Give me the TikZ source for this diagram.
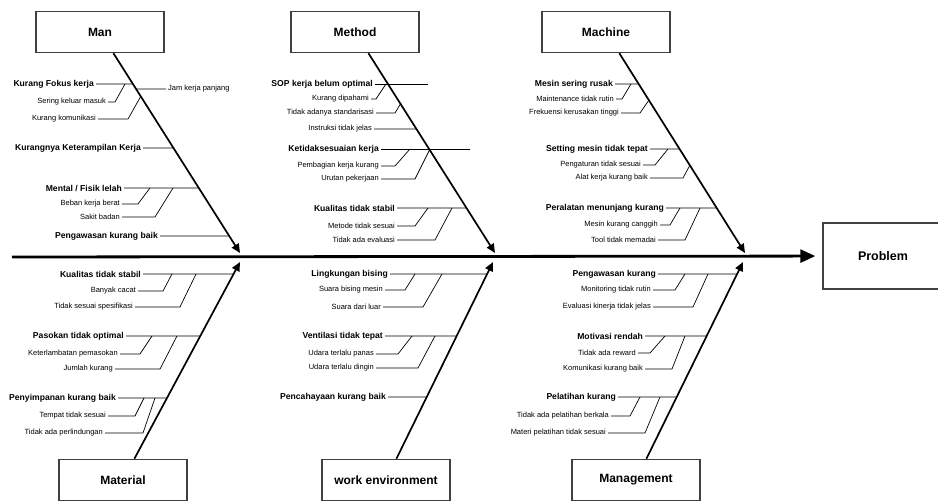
\documentclass[tikz,border=0pt]{standalone}
\usepackage{fontspec}
\setmainfont{Liberation Sans}
\usetikzlibrary{arrows.meta,positioning,calc}

\begin{document}
\begin{tikzpicture}[x=1pt,y=-1pt]
  \tikzstyle{cat}=[draw=black!75,line width=1.4pt,fill=white,minimum width=128pt,minimum height=41pt,font=\bfseries\fontsize{12}{14}\selectfont]
  \tikzstyle{cause}=[anchor=east,inner sep=2pt,font=\bfseries\fontsize{8.6}{9}\selectfont]
  \tikzstyle{subc}=[anchor=east,inner sep=2pt,font=\fontsize{7.5}{8}\selectfont]
  \tikzstyle{bone}=[line width=1.7pt,-{Triangle[length=9pt,width=8pt]}]
  \tikzstyle{twig}=[line width=0.7pt]
  \useasboundingbox (0,0) rectangle (938,502);

  % categories
  \node[cat] (man) at (100,32) {Man};
  \node[cat] (met) at (355,32) {Method};
  \node[cat] (mac) at (606,32) {Machine};
  \node[cat] (mat) at (123,480) {Material};
  \node[cat] (env) at (386,480) {work environment};
  \node[cat] (mgt) at (636,480) {Management};
  \node[cat,minimum width=120pt,minimum height=66pt,font=\bfseries\fontsize{12.5}{14}\selectfont] (prob) at (883,256) {Problem};

  % spine and bones
  \coordinate (tail) at (12,257);
  \coordinate (manT) at (240,253);
  \coordinate (metT) at (495,253);
  \coordinate (macT) at (745,253);
  \coordinate (matT) at (240,262);
  \coordinate (envT) at (493,262);
  \coordinate (mgtT) at (743,262);
  \draw[line width=2.8pt,-{Triangle[length=15pt,width=13pt]},shorten >=7pt] (tail) -- (prob);
  \draw[bone] (man) -- (manT);
  \draw[bone] (met) -- (metT);
  \draw[bone] (mac) -- (macT);
  \draw[bone] (mat) -- (matT);
  \draw[bone] (env) -- (envT);
  \draw[bone] (mgt) -- (mgtT);

  % Man
  \node[cause] (m1) at (96,84) {Kurang Fokus kerja};
  \draw[twig] (m1.east) -- (intersection of m1.east--m1.west and man--manT);
  \node[subc] (m1a) at (108,102) {Sering keluar masuk};
  \draw[twig] (m1a.east) -- ++(7,0) -- ++(10,-18);
  \node[subc] (m1b) at (98,119) {Kurang komunikasi};
  \draw[twig] (m1b.east) -- ++(30,0) -- ++(13,-23);
  \node[subc,anchor=west] (m1c) at (166,89) {Jam kerja panjang};
  \draw[twig] (intersection of m1c.west--m1c.east and man--manT) -- (m1c.west);
  \node[cause] (m2) at (143,148) {Kurangnya Keterampilan Kerja};
  \draw[twig] (m2.east) -- (intersection of m2.east--m2.west and man--manT);
  \node[cause] (m3) at (124,188) {Mental / Fisik lelah};
  \draw[twig] (m3.east) -- (intersection of m3.east--m3.west and man--manT);
  \node[subc] (m3a) at (122,204) {Beban kerja berat};
  \draw[twig] (m3a.east) -- ++(16,0) -- ++(12,-16);
  \node[subc] (m3b) at (122,217) {Sakit badan};
  \draw[twig] (m3b.east) -- ++(33,0) -- ++(18,-29);
  \node[cause] (m4) at (160,236) {Pengawasan kurang baik};
  \draw[twig] (m4.east) -- (intersection of m4.east--m4.west and man--manT);

  % Material
  \node[cause] (t1) at (143,274) {Kualitas tidak stabil};
  \draw[twig] (t1.east) -- (intersection of t1.east--t1.west and mat--matT);
  \node[subc] (t1a) at (138,291) {Banyak cacat};
  \draw[twig] (t1a.east) -- ++(25,0) -- ++(9,-17);
  \node[subc] (t1b) at (135,307) {Tidak sesuai spesifikasi};
  \draw[twig] (t1b.east) -- ++(45,0) -- ++(16,-33);
  \node[cause] (t2) at (126,336) {Pasokan tidak optimal};
  \draw[twig] (t2.east) -- (intersection of t2.east--t2.west and mat--matT);
  \node[subc] (t2a) at (120,354) {Keterlambatan pemasokan};
  \draw[twig] (t2a.east) -- ++(20,0) -- ++(12,-18);
  \node[subc] (t2b) at (115,369) {Jumlah kurang};
  \draw[twig] (t2b.east) -- ++(45,0) -- ++(17,-33);
  \node[cause] (t3) at (118,398) {Penyimpanan kurang baik};
  \draw[twig] (t3.east) -- (intersection of t3.east--t3.west and mat--matT);
  \node[subc] (t3a) at (108,416) {Tempat tidak sesuai};
  \draw[twig] (t3a.east) -- ++(27,0) -- ++(9,-18);
  \node[subc] (t3b) at (105,433) {Tidak ada perlindungan};
  \draw[twig] (t3b.east) -- ++(38,0) -- ++(12,-35);

  % Method
  \node[cause] (s1) at (375,84) {SOP kerja belum optimal};
  \draw[twig] (s1.east) -- ++(53,0);
  \node[subc] (s1a) at (371,99) {Kurang dipahami};
  \draw[twig] (s1a.east) -- ++(5,0) -- ++(10,-15);
  \node[subc] (s1b) at (376,113) {Tidak adanya standarisasi};
  \draw[twig] (s1b.east) -- ++(19,0) -- ++(6,-10);
  \node[subc] (s2) at (374,129) {Instruksi tidak jelas};
  \draw[twig] (s2.east) -- (intersection of s2.east--s2.west and met--metT);
  \node[cause] (s3) at (381,149) {Ketidaksesuaian kerja};
  \draw[twig] (s3.east) -- ++(89,0);
  \node[subc] (s3a) at (381,166) {Pembagian kerja kurang};
  \draw[twig] (s3a.east) -- ++(14,0) -- ++(15,-17);
  \node[subc] (s3b) at (381,179) {Urutan pekerjaan};
  \draw[twig] (s3b.east) -- ++(34,0) -- ++(15,-30);
  \node[cause] (s4) at (397,208) {Kualitas tidak stabil};
  \draw[twig] (s4.east) -- (intersection of s4.east--s4.west and met--metT);
  \node[subc] (s4a) at (397,226) {Metode tidak sesuai};
  \draw[twig] (s4a.east) -- ++(18,0) -- ++(13,-18);
  \node[subc] (s4b) at (397,240) {Tidak ada evaluasi};
  \draw[twig] (s4b.east) -- ++(38,0) -- ++(17,-32);

  % work environment
  \node[cause] (w1) at (390,274) {Lingkungan bising};
  \draw[twig] (w1.east) -- (intersection of w1.east--w1.west and env--envT);
  \node[subc] (w1a) at (385,290) {Suara bising mesin};
  \draw[twig] (w1a.east) -- ++(20,0) -- ++(10,-16);
  \node[subc] (w1b) at (383,307) {Suara dari luar};
  \draw[twig] (w1b.east) -- ++(40,0) -- ++(19,-33);
  \node[cause] (w2) at (385,336) {Ventilasi tidak tepat};
  \draw[twig] (w2.east) -- (intersection of w2.east--w2.west and env--envT);
  \node[subc] (w2a) at (376,354) {Udara terlalu panas};
  \draw[twig] (w2a.east) -- ++(22,0) -- ++(14,-18);
  \node[subc] (w2b) at (376,368) {Udara terlalu dingin};
  \draw[twig] (w2b.east) -- ++(42,0) -- ++(17,-32);
  \node[cause] (w3) at (388,397) {Pencahayaan kurang baik};
  \draw[twig] (w3.east) -- (intersection of w3.east--w3.west and env--envT);

  % Machine
  \node[cause] (k1) at (615,84) {Mesin sering rusak};
  \draw[twig] (k1.east) -- (intersection of k1.east--k1.west and mac--macT);
  \node[subc] (k1a) at (616,99) {Maintenance tidak rutin};
  \draw[twig] (k1a.east) -- ++(6,0) -- ++(9,-15);
  \node[subc] (k1b) at (621,113) {Frekuensi kerusakan tinggi};
  \draw[twig] (k1b.east) -- ++(19,0) -- ++(9,-13);
  \node[cause] (k2) at (650,149) {Setting mesin tidak tepat};
  \draw[twig] (k2.east) -- (intersection of k2.east--k2.west and mac--macT);
  \node[subc] (k2a) at (643,165) {Pengaturan tidak sesuai};
  \draw[twig] (k2a.east) -- ++(12,0) -- ++(13,-16);
  \node[subc] (k2b) at (650,178) {Alat kerja kurang baik};
  \draw[twig] (k2b.east) -- ++(33,0) -- ++(7,-13);
  \node[cause] (k3) at (666,208) {Peralatan menunjang kurang};
  \draw[twig] (k3.east) -- (intersection of k3.east--k3.west and mac--macT);
  \node[subc] (k3a) at (660,225) {Mesin kurang canggih};
  \draw[twig] (k3a.east) -- ++(10,0) -- ++(10,-17);
  \node[subc] (k3b) at (658,240) {Tool tidak memadai};
  \draw[twig] (k3b.east) -- ++(27,0) -- ++(15,-32);

  % Management
  \node[cause] (g1) at (658,274) {Pengawasan kurang};
  \draw[twig] (g1.east) -- (intersection of g1.east--g1.west and mgt--mgtT);
  \node[subc] (g1a) at (653,290) {Monitoring tidak rutin};
  \draw[twig] (g1a.east) -- ++(22,0) -- ++(10,-16);
  \node[subc] (g1b) at (653,307) {Evaluasi kinerja tidak jelas};
  \draw[twig] (g1b.east) -- ++(40,0) -- ++(15,-33);
  \node[cause] (g2) at (645,336) {Motivasi rendah};
  \draw[twig] (g2.east) -- (intersection of g2.east--g2.west and mgt--mgtT);
  \node[subc] (g2a) at (638,353) {Tidak ada reward};
  \draw[twig] (g2a.east) -- ++(12,0) -- ++(15,-17);
  \node[subc] (g2b) at (645,369) {Komunikasi kurang baik};
  \draw[twig] (g2b.east) -- ++(27,0) -- ++(13,-33);
  \node[cause] (g3) at (618,397) {Pelatihan kurang};
  \draw[twig] (g3.east) -- (intersection of g3.east--g3.west and mgt--mgtT);
  \node[subc] (g3a) at (611,416) {Tidak ada pelatihan berkala};
  \draw[twig] (g3a.east) -- ++(19,0) -- ++(10,-19);
  \node[subc] (g3b) at (608,433) {Materi pelatihan tidak sesuai};
  \draw[twig] (g3b.east) -- ++(37,0) -- ++(15,-36);
\end{tikzpicture}
\end{document}
